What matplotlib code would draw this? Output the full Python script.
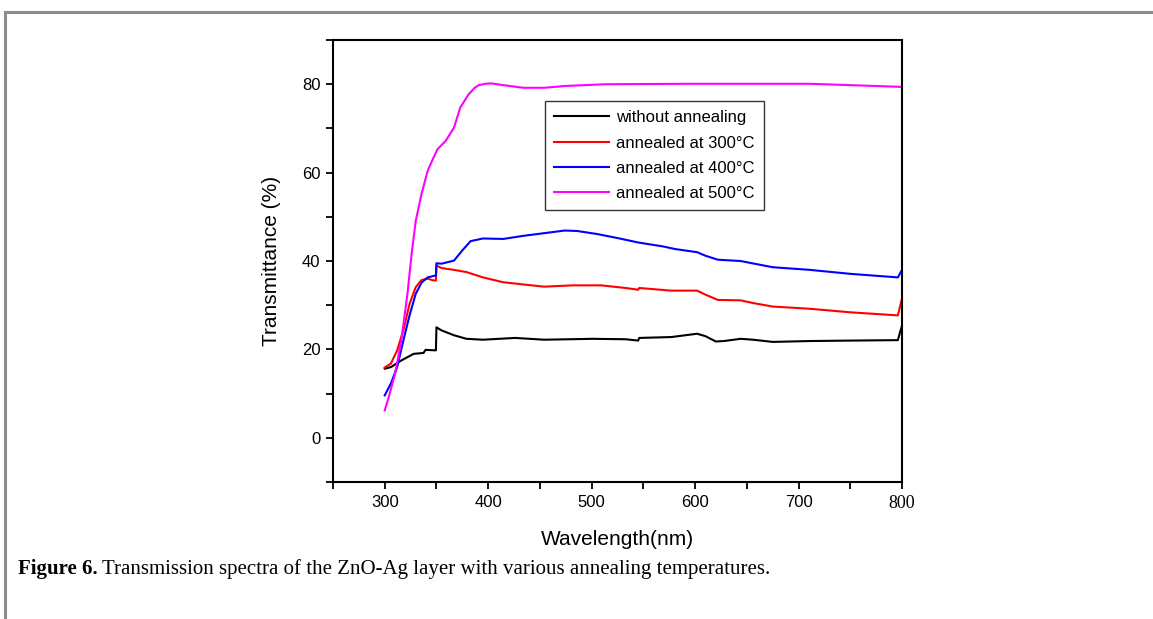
import numpy as np
import matplotlib
matplotlib.use("Agg")
import matplotlib.pyplot as plt
from matplotlib.ticker import MultipleLocator

# wavelength (nm) / transmittance (%)
wl_black = [300, 306, 316, 328, 337.5, 339.5, 348.6, 349.5, 350, 355, 367, 379, 395, 426, 454,
            501.6, 533, 545, 546, 577, 602, 610, 620, 628, 644, 656, 675, 711, 750, 796, 800]
t_black = [15.65, 16.0, 17.5, 19.0, 19.2, 19.9, 19.8, 19.8, 25.0, 24.3, 23.2, 22.4, 22.2, 22.6, 22.2,
           22.4, 22.3, 22.0, 22.6, 22.8, 23.55, 23.0, 21.8, 21.9, 22.4, 22.2, 21.7, 21.9, 22.0, 22.1, 25.4]

wl_red = [300, 306, 312, 318, 324, 330, 335.6, 341.5, 347.4, 349.5, 350, 355, 367, 379, 395, 414.6,
          434, 454, 482, 509, 533, 545, 546, 577, 602, 610, 622, 644, 656, 675, 711, 750, 796, 800]
t_red = [15.9, 16.8, 19.8, 24.3, 30.3, 34.1, 35.7, 36.0, 35.6, 35.6, 39.0, 38.4, 38.0, 37.5, 36.3, 35.2,
         34.7, 34.2, 34.5, 34.5, 33.9, 33.5, 33.9, 33.3, 33.3, 32.4, 31.2, 31.1, 30.5, 29.7, 29.2, 28.4, 27.7, 31.5]

wl_blue = [300, 306, 312, 318, 324, 330, 335.6, 341.5, 348.6, 349.5, 350, 355, 367, 375, 383, 395,
           414.6, 434, 454, 474, 486, 505.5, 525, 545, 569, 581, 602, 610, 622, 644, 675, 711, 750, 796, 800]
t_blue = [9.6, 12.3, 16.0, 22.0, 27.7, 32.6, 35.1, 36.3, 36.7, 36.7, 39.5, 39.4, 40.1, 42.4, 44.5, 45.1,
          45.0, 45.7, 46.3, 46.9, 46.8, 46.1, 45.2, 44.2, 43.3, 42.7, 42.0, 41.2, 40.3, 40.0, 38.6, 38.0, 37.1, 36.3, 38.0]

wl_mag = [300, 304, 310, 316, 322, 326, 330, 335.6, 341.5, 346.6, 351, 359, 367, 373, 381, 387, 391,
          397, 403, 414.6, 434, 454, 474, 513, 592, 711, 750, 800]
t_mag = [6.2, 9.3, 14.5, 22.0, 32.6, 41.6, 49.1, 55.2, 60.4, 63.1, 65.3, 67.2, 70.2, 74.7, 77.7, 79.2, 79.8,
         80.1, 80.2, 79.8, 79.2, 79.2, 79.6, 80.0, 80.1, 80.1, 79.8, 79.4]

labels = ["without annealing", "annealed at 300\u00b0C", "annealed at 400\u00b0C", "annealed at 500\u00b0C"]
colors = ["black", "#ff0000", "#0000ff", "#ff00ff"]

fig = plt.figure(figsize=(11.53, 6.19), dpi=100)
plt.rcParams['font.family'] = ['Liberation Sans', 'DejaVu Sans']

# grey frame of the page
fig.add_artist(plt.Line2D([0.0045, 1.0], [0.981, 0.981], color="#8c8c8c", lw=2.2,
                          transform=fig.transFigure))
fig.add_artist(plt.Line2D([0.0045, 0.0045], [0.0, 0.981], color="#8c8c8c", lw=2.2,
                          transform=fig.transFigure))

ax = fig.add_axes([0.2888, 0.2213, 0.4935, 0.714])
for wl, t, lab, c in zip([wl_black, wl_red, wl_blue, wl_mag],
                         [t_black, t_red, t_blue, t_mag], labels, colors):
    ax.plot(wl, t, color=c, lw=1.5, label=lab)

ax.set_xlim(250, 800)
ax.set_ylim(-10, 90)
ax.xaxis.set_minor_locator(MultipleLocator(50))
ax.yaxis.set_minor_locator(MultipleLocator(10))
ax.set_xticks([300, 400, 500, 600, 700, 800])
ax.set_yticks([0, 20, 40, 60, 80])
ax.tick_params(which="both", direction="out", length=5, width=1.3, top=False, right=False,
               labelsize=12, pad=4)
for lbl in ax.get_xticklabels():
    if lbl.get_text() == "800":
        lbl.set_fontfamily("Liberation Serif")
        lbl.set_fontsize(13)
for s in ax.spines.values():
    s.set_linewidth(1.5)

ax.set_xlabel("Wavelength(nm)", fontsize=15, labelpad=13)
ax.set_ylabel("Transmittance (%)", fontsize=15, labelpad=15)

leg = ax.legend(loc="upper left", bbox_to_anchor=(0.373, 0.862), fontsize=12, frameon=True,
                fancybox=False, edgecolor="black", handlelength=3.3, handletextpad=0.4,
                labelspacing=0.62, borderpad=0.55, borderaxespad=0)
leg.get_frame().set_linewidth(1.0)

t1 = fig.text(0.0156, 0.072, "Figure 6.", fontsize=15, fontweight="bold", family="Liberation Serif")
fig.canvas.draw()
bb = t1.get_window_extent(fig.canvas.get_renderer())
fig.text(bb.x1 / fig.bbox.width + 0.004, 0.072,
         "Transmission spectra of the ZnO-Ag layer with various annealing temperatures.",
         fontsize=15, family="Liberation Serif")

fig.savefig("out.png", dpi=100)
